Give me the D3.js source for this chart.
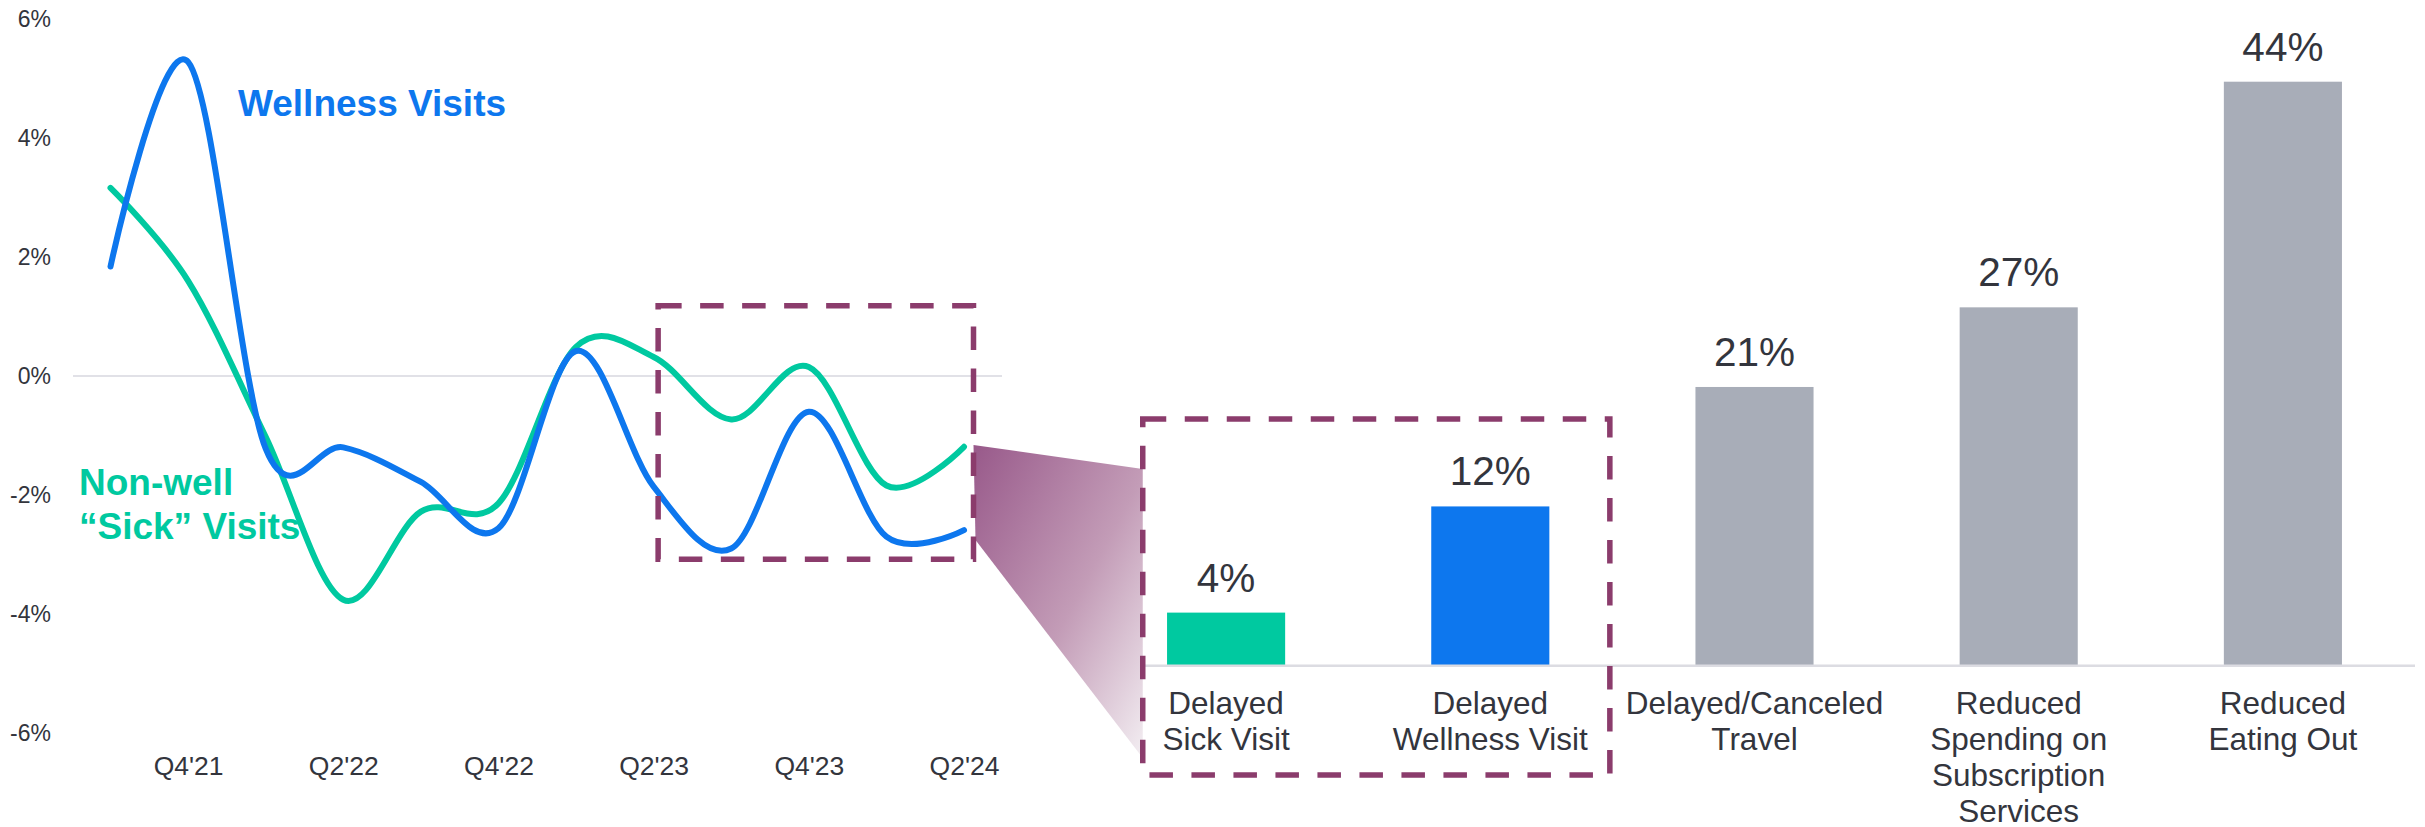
<!DOCTYPE html>
<html>
<head>
<meta charset="utf-8">
<script src="https://cdn.jsdelivr.net/npm/d3@7"></script>
<style>
  body { margin: 0; background: #fff; }
</style>
</head>
<body>
<div id="chart"></div>
<script>
// quarterly change in visits, %
const quarters = ["Q3'21", "Q4'21", "Q1'22", "Q2'22", "Q3'22", "Q4'22", "Q1'23", "Q2'23", "Q3'23", "Q4'23", "Q1'24", "Q2'24"]
const wellnessVisits = [1.84, 5.28, -1.22, -1.2, -1.78, -2.56, 0.42, -1.86, -2.9, -0.6, -2.7, -2.59]
const sickVisits = [3.16, 1.6, -1.02, -3.76, -2.28, -2.14, 0.49, 0.32, -0.73, 0.15, -1.84, -1.19]
const quarterTicks = ["Q4'21", "Q2'22", "Q4'22", "Q2'23", "Q4'23", "Q2'24"]
const pctTicks = [-6, -4, -2, 0, 2, 4, 6]

// share of people reporting each behaviour, %
const behaviours = ['Delayed Sick Visit', 'Delayed Wellness Visit', 'Delayed/Canceled Travel',
  'Reduced Spending on Subscription Services', 'Reduced Eating Out']
const behaviourLines = [['Delayed', 'Sick Visit'], ['Delayed', 'Wellness Visit'], ['Delayed/Canceled', 'Travel'],
  ['Reduced', 'Spending on', 'Subscription', 'Services'], ['Reduced', 'Eating Out']]
const shares = [4, 12, 21, 27, 44]

const W = 2425, H = 827
const font = "'Liberation Sans', Arial, sans-serif"
const blue = '#0d77ee', teal = '#00c9a0', grey = '#a8adb8', purple = '#8b3c6c', ink = '#33353d'

const svg = d3.select('#chart').append('svg').attr('width', W).attr('height', H)
  .attr('font-family', font)

let defs = svg.append('defs')
let grad = defs.append('linearGradient').attr('id', 'zoomFill')
  .attr('x1', 0).attr('y1', 0).attr('x2', 1).attr('y2', 1)
grad.append('stop').attr('offset', '0%').attr('stop-color', '#98598a')
grad.append('stop').attr('offset', '55%').attr('stop-color', '#c39cb7')
grad.append('stop').attr('offset', '100%').attr('stop-color', '#f3eef2')

// ---- left: line chart
let x = d3.scalePoint().domain(quarters).range([110.5, 964]),
  y = d3.scaleLinear().domain([-6, 6]).range([733, 19])

svg.append('line').attr('x1', 73).attr('x2', 1002)
  .attr('y1', y(0)).attr('y2', y(0))
  .attr('stroke', '#e1e1e7').attr('stroke-width', 2)

let yAxis = svg.append('g').attr('transform', 'translate(51,0)')
  .call(d3.axisLeft(y).tickValues(pctTicks).tickFormat(d => d + '%').tickSize(0).tickPadding(0))
yAxis.attr('font-family', font).attr('font-size', 23)
yAxis.select('.domain').remove()
yAxis.selectAll('text').attr('fill', ink)

let xAxis = svg.append('g').attr('transform', 'translate(0,756)')
  .call(d3.axisBottom(x).tickValues(quarterTicks).tickSize(0).tickPadding(0))
xAxis.attr('font-family', font).attr('font-size', 26.5)
xAxis.select('.domain').remove()
xAxis.selectAll('text').attr('fill', ink)

let line = d3.line()
  .x((d, i) => x(quarters[i]))
  .y(d => y(d))
  .curve(d3.curveCardinal.tension(0))

svg.append('path').datum(sickVisits).attr('d', line)
  .attr('fill', 'none').attr('stroke', teal).attr('stroke-width', 6).attr('stroke-linecap', 'round')
svg.append('path').datum(wellnessVisits).attr('d', line)
  .attr('fill', 'none').attr('stroke', blue).attr('stroke-width', 6).attr('stroke-linecap', 'round')

// series labels
svg.append('text').text('Wellness Visits').attr('x', 238).attr('y', 116)
  .attr('font-size', 37).attr('font-weight', 'bold').attr('fill', blue)
let sickLabel = svg.append('text').attr('font-size', 37).attr('font-weight', 'bold').attr('fill', teal)
sickLabel.append('tspan').text('Non-well').attr('x', 79).attr('y', 495)
sickLabel.append('tspan').text('\u201cSick\u201d Visits').attr('x', 79).attr('y', 539)

// ---- right: bar chart
let xb = d3.scaleBand().domain(behaviours).range([1094, 2415]).paddingInner(0.553).paddingOuter(0.2765),
  yb = d3.scaleLinear().domain([0, 44]).range([665.7, 81.7])
let bw = xb.bandwidth()
let barColor = (d, i) => i === 0 ? teal : i === 1 ? blue : grey

svg.append('g').selectAll('rect').data(shares).enter().append('rect')
  .attr('x', (d, i) => xb(behaviours[i]))
  .attr('y', d => yb(d))
  .attr('width', bw)
  .attr('height', d => yb(0) - yb(d))
  .attr('fill', barColor)

svg.append('line').attr('x1', 1094).attr('x2', 2415)
  .attr('y1', yb(0)).attr('y2', yb(0))
  .attr('stroke', '#dcdce2').attr('stroke-width', 2.5)

// value labels
svg.append('g').selectAll('text').data(shares).enter().append('text')
  .text(d => d + '%')
  .attr('x', (d, i) => xb(behaviours[i]) + bw / 2)
  .attr('y', d => yb(d) - 21)
  .attr('text-anchor', 'middle').attr('font-size', 40.5).attr('fill', ink)

// category labels
let cats = svg.append('g').selectAll('text').data(behaviourLines).enter().append('text')
  .attr('text-anchor', 'middle').attr('font-size', 31.5).attr('fill', ink)
cats.selectAll('tspan').data((d, i) => d.map(t => ({ t, i }))).enter().append('tspan')
  .text(d => d.t)
  .attr('x', d => xb(behaviours[d.i]) + bw / 2)
  .attr('y', (d, j) => yb(0) + 48 + j * 36)

// ---- zoom call-out
let lx0 = x("Q2'23") + 4.5, lx1 = x("Q2'24") + 9.5,
  ly0 = y(1.18), ly1 = y(-3.08)
let rx0 = xb(behaviours[0]) - 24.3, rx1 = xb(behaviours[1]) + bw + 60.5,
  ry0 = 419, ry1 = 775

svg.append('polygon')
  .attr('points', [[lx1, 445], [rx0, 469], [rx0, 758], [lx1 + 2, 540]].map(p => p.join(',')).join(' '))
  .attr('fill', 'url(#zoomFill)')

let boxes = [[lx0, ly0, lx1, ly1], [rx0, ry0, rx1, ry1]]
svg.append('g').selectAll('rect').data(boxes).enter().append('rect')
  .attr('x', d => d[0]).attr('y', d => d[1])
  .attr('width', d => d[2] - d[0]).attr('height', d => d[3] - d[1])
  .attr('fill', 'none').attr('stroke', purple).attr('stroke-width', 5.5)
  .attr('stroke-dasharray', '23.5 18.5')
</script>
</body>
</html>
